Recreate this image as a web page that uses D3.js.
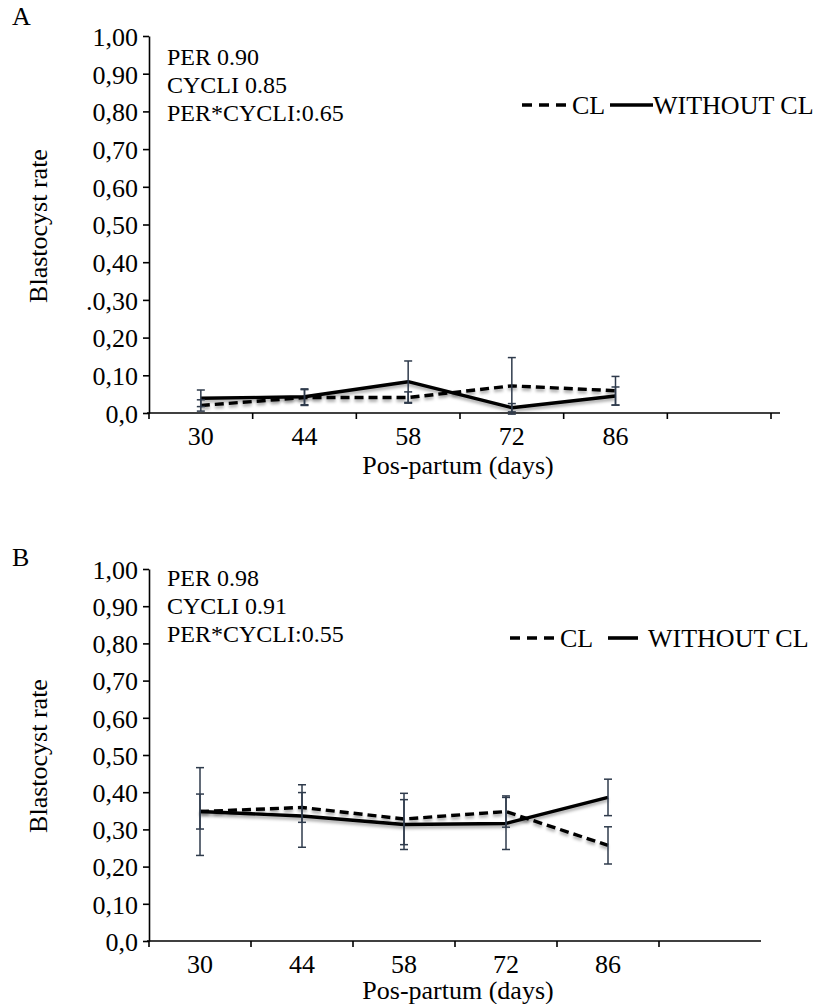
<!DOCTYPE html>
<html>
<head>
<meta charset="utf-8">
<script src="https://cdn.jsdelivr.net/npm/d3@7"></script>
<style>
  html, body { margin: 0; padding: 0; background: #fff; }
  svg text { font-family: "Liberation Serif", "Times New Roman", serif; fill: #000; }
</style>
</head>
<body>
<svg id="chart" width="821" height="1004"></svg>
<script>
// ---------------- data ----------------
const days = ["30", "44", "58", "72", "86"];
const emptySlot = [""];            // the axis keeps one empty slot after 86
const yTickValues = [0, 0.1, 0.2, 0.3, 0.4, 0.5, 0.6, 0.7, 0.8, 0.9, 1.0];
const yTickLabelsA = ["0,0", "0,10", "0,20", ".0,30", "0,40", "0,50", "0,60", "0,70", "0,80", "0,90", "1,00"];
const yTickLabelsB = ["0,0", "0,10", "0,20", "0,30", "0,40", "0,50", "0,60", "0,70", "0,80", "0,90", "1,00"];

const clA    = [0.020, 0.041, 0.041, 0.072, 0.059];
const clErrA = [0.015, 0.021, 0.015, 0.075, 0.038];
const woA    = [0.039, 0.043, 0.083, 0.014, 0.045];
const woErrA = [0.022, 0.021, 0.055, 0.011, 0.024];

const clB    = [0.348, 0.359, 0.328, 0.348, 0.257];
const clErrB = [0.118, 0.040, 0.069, 0.042, 0.050];
const woB    = [0.348, 0.336, 0.313, 0.316, 0.386];
const woErrB = [0.047, 0.084, 0.067, 0.070, 0.049];

const statsA = ["PER 0.90", "CYCLI 0.85", "PER*CYCLI:0.65"];
const statsB = ["PER 0.98", "CYCLI 0.91", "PER*CYCLI:0.55"];
const legendLabels = ["CL", "WITHOUT CL"];
const yTitle = "Blastocyst rate";
const xTitle = "Pos-partum (days)";

// ---------------- layout ----------------
const svg = d3.select("#chart");
const defs = svg.append("defs");
const f = defs.append("filter").attr("id", "shadow")
  .attr("x", "-5%").attr("y", "-50%").attr("width", "110%").attr("height", "200%");
f.append("feDropShadow").attr("dx", 0).attr("dy", 2.5).attr("stdDeviation", 1.6)
  .attr("flood-color", "#000").attr("flood-opacity", 0.35);

const panels = [
  {
    letter: "A", letterX: 12, letterY: 25,
    top: 36, bottom: 413, left: 149, right: 771, axisEnd: 780, endTick: true,
    tickLabels: yTickLabelsA, cl: clA, clErr: clErrA, wo: woA, woErr: woErrA,
    stats: statsA, statsX: 167, statsY: 65,
    legY: 105, legDash: [522, 566], legCLx: 572, legSolid: [610, 653], legWOx: 653,
    yTitleX: 47, yTitleY: 226, xTitleX: 458, xTitleY: 474
  },
  {
    letter: "B", letterX: 12, letterY: 566,
    top: 569, bottom: 941, left: 149, right: 761, axisEnd: 761, endTick: false,
    tickLabels: yTickLabelsB, cl: clB, clErr: clErrB, wo: woB, woErr: woErrB,
    stats: statsB, statsX: 167, statsY: 586,
    legY: 638, legDash: [510, 554], legCLx: 560, legSolid: [608, 638], legWOx: 648,
    yTitleX: 47, yTitleY: 756, xTitleX: 458, xTitleY: 999
  }
];

const errColor = "#2f3b4c";
const serif = '"Liberation Serif", "Times New Roman", serif';

panels.forEach(p => {
  const g = svg.append("g");
  const x = d3.scaleBand().domain(days.concat(emptySlot)).range([p.left, p.right]).padding(0);
  const y = d3.scaleLinear().domain([0, 1]).range([p.bottom, p.top]);
  const cx = d => x(d) + x.bandwidth() / 2;

  // panel letter
  g.append("text").attr("x", p.letterX).attr("y", p.letterY)
    .attr("font-size", 26).text(p.letter);

  // y axis
  const yAxis = d3.axisLeft(y).tickValues(yTickValues)
    .tickFormat((d, i) => p.tickLabels[i]).tickSize(6).tickSizeOuter(0).tickPadding(5);
  const ya = g.append("g").attr("transform", `translate(${p.left},0)`).call(yAxis);
  ya.select(".domain").attr("stroke", "#000").attr("stroke-width", 1.6);
  ya.selectAll(".tick line").attr("stroke", "#000").attr("stroke-width", 1.6);
  ya.selectAll(".tick text").attr("font-size", 26).attr("font-family", serif)
    .attr("fill", "#000").attr("dy", "0.36em");

  // x axis: labels at band centers (only the five days)
  const xAxis = d3.axisBottom(x).tickValues(days).tickSize(0).tickPadding(11).tickSizeOuter(0);
  const xa = g.append("g").attr("transform", `translate(0,${p.bottom})`).call(xAxis);
  xa.select(".domain").remove();
  xa.selectAll(".tick text").attr("font-size", 26).attr("font-family", serif)
    .attr("fill", "#000").attr("dy", "0.8em");
  // axis line
  g.append("line").attr("x1", p.left - 2).attr("x2", p.axisEnd)
    .attr("y1", p.bottom).attr("y2", p.bottom).attr("stroke", "#000").attr("stroke-width", 1.6);
  // tick marks at band edges
  const edges = x.domain().map(d => x(d)).concat(p.endTick ? [p.right] : []);
  g.selectAll(".xedge").data(edges).enter().append("line")
    .attr("x1", d => d).attr("x2", d => d)
    .attr("y1", p.bottom).attr("y2", p.bottom + 6)
    .attr("stroke", "#000").attr("stroke-width", 1.6);

  // lines
  const line = d3.line().x((v, i) => cx(days[i])).y(v => y(v));
  g.append("path").datum(p.wo).attr("d", line)
    .attr("fill", "none").attr("stroke", "#000").attr("stroke-width", 3.4)
    .attr("stroke-linejoin", "round").attr("filter", "url(#shadow)");
  g.append("path").datum(p.cl).attr("d", line)
    .attr("fill", "none").attr("stroke", "#000").attr("stroke-width", 3.4)
    .attr("stroke-dasharray", "9,5").attr("filter", "url(#shadow)");

  // error bars
  const drawErr = (vals, errs) => {
    const eg = g.append("g").attr("stroke", errColor).attr("stroke-width", 1.5);
    vals.forEach((v, i) => {
      const xc = cx(days[i]);
      const y1 = y(v + errs[i]), y2 = y(v - errs[i]);
      eg.append("line").attr("x1", xc).attr("x2", xc).attr("y1", y1).attr("y2", y2);
      eg.append("line").attr("x1", xc - 4).attr("x2", xc + 4).attr("y1", y1).attr("y2", y1);
      eg.append("line").attr("x1", xc - 4).attr("x2", xc + 4).attr("y1", y2).attr("y2", y2);
    });
  };
  drawErr(p.wo, p.woErr);
  drawErr(p.cl, p.clErr);

  // stats text
  g.selectAll(".stat").data(p.stats).enter().append("text")
    .attr("x", p.statsX).attr("y", (d, i) => p.statsY + i * 28)
    .attr("font-size", 24).text(d => d);

  // legend
  g.append("line").attr("x1", p.legDash[0]).attr("x2", p.legDash[1])
    .attr("y1", p.legY).attr("y2", p.legY).attr("stroke", "#000")
    .attr("stroke-width", 3.6).attr("stroke-dasharray", "10,7");
  g.append("text").attr("x", p.legCLx).attr("y", p.legY + 9).attr("font-size", 26).text(legendLabels[0]);
  g.append("line").attr("x1", p.legSolid[0]).attr("x2", p.legSolid[1])
    .attr("y1", p.legY).attr("y2", p.legY).attr("stroke", "#000").attr("stroke-width", 3.6);
  g.append("text").attr("x", p.legWOx).attr("y", p.legY + 9).attr("font-size", 26).text(legendLabels[1]);

  // axis titles
  g.append("text").attr("transform", `translate(${p.yTitleX},${p.yTitleY}) rotate(-90)`)
    .attr("text-anchor", "middle").attr("font-size", 26).text(yTitle);
  g.append("text").attr("x", p.xTitleX).attr("y", p.xTitleY)
    .attr("text-anchor", "middle").attr("font-size", 26).text(xTitle);
});
</script>
</body>
</html>
